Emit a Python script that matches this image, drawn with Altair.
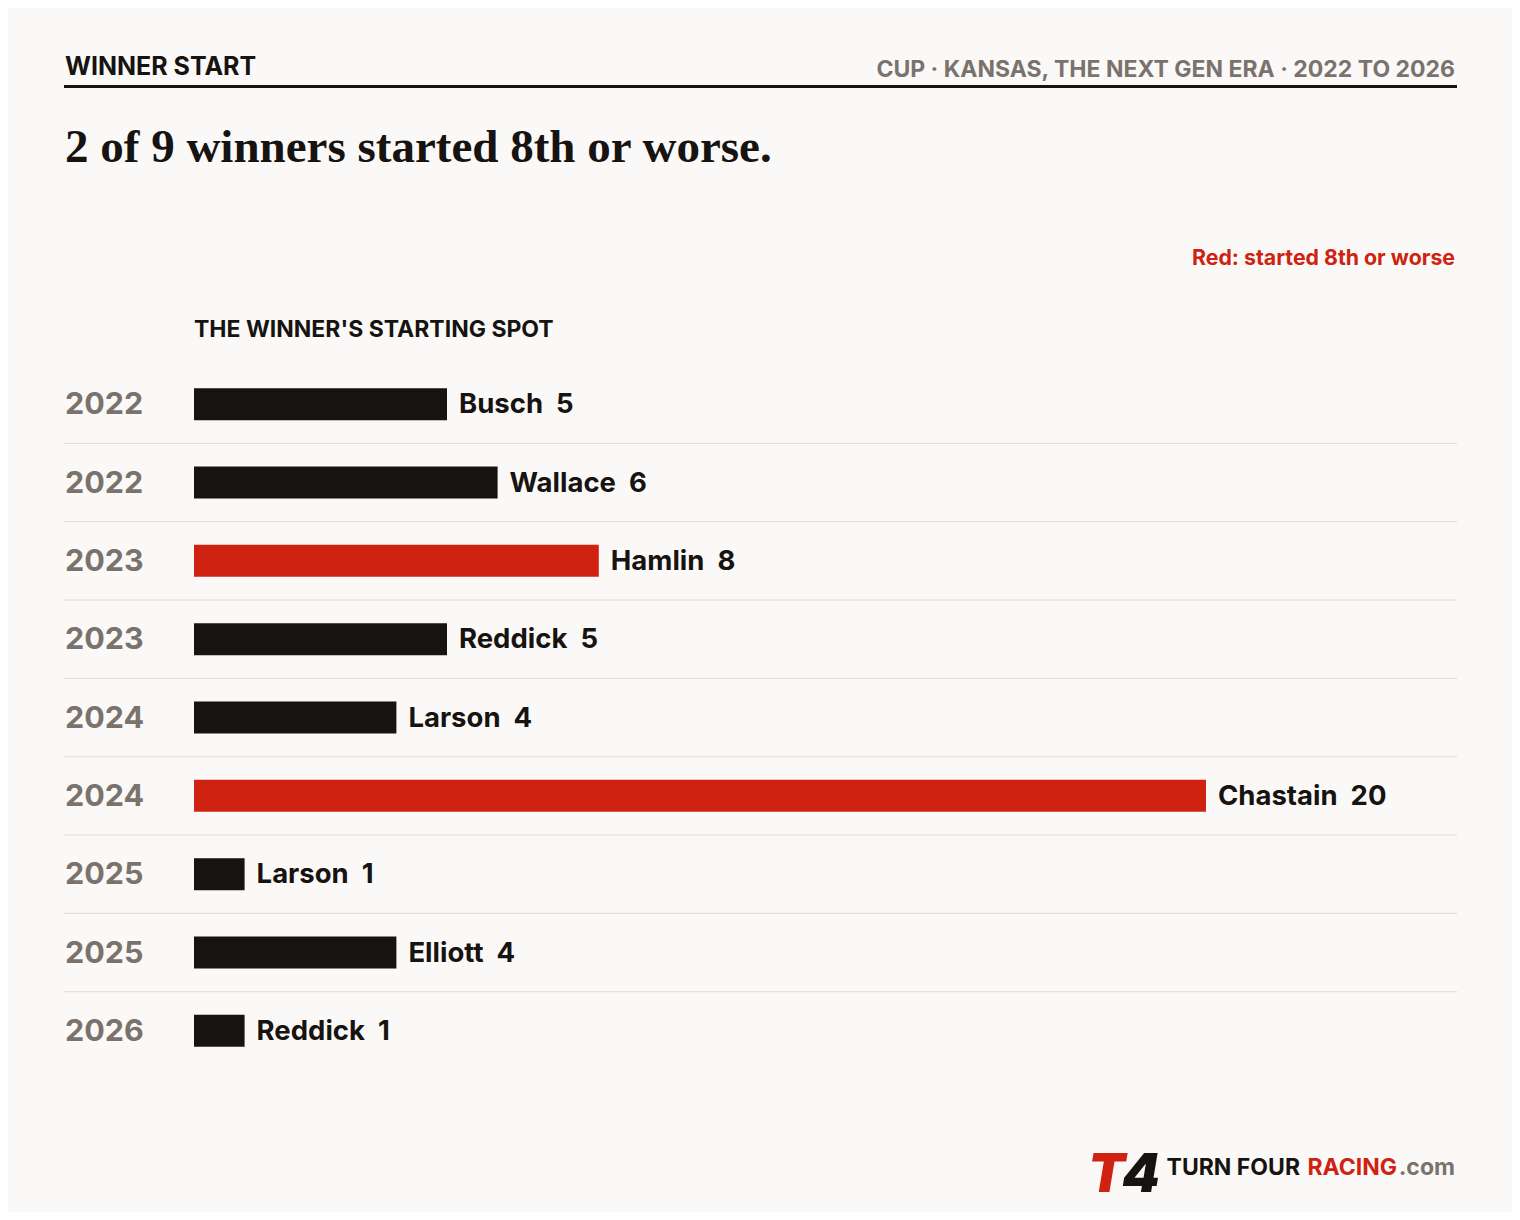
import altair as alt
import pandas as pd

# ---- data ----
years = ["2022", "2022", "2023", "2023", "2024", "2024", "2025", "2025", "2026"]
drivers = ["Busch", "Wallace", "Hamlin", "Reddick", "Larson", "Chastain", "Larson", "Elliott", "Reddick"]
starts = [5, 6, 8, 5, 4, 20, 1, 4, 1]

title_text = "2 of 9 winners started 8th or worse."
kicker = "WINNER START"
subtitle = "CUP · KANSAS, THE NEXT GEN ERA · 2022 TO 2026"
legend_note = "Red: started 8th or worse"
axis_label = "THE WINNER'S STARTING SPOT"

BG = "#faf9f7"
INK = "#161311"
RED = "#cf2211"
GRAY = "#7a736d"
SANS = "Inter"

rows = [f"r{i}" for i in range(len(starts))]
df = pd.DataFrame({
    "row": rows,
    "year": years,
    "driver": drivers,
    "start": starts,
})
df["label"] = df["driver"] + "\u00a0\u00a0" + df["start"].astype(str)
df["flag"] = df["start"].apply(lambda v: "late" if v >= 8 else "early")

xs = alt.Scale(domain=[0, 20], range=[186, 1198], nice=False, zero=True)
ys = alt.Scale(domain=rows, range=[357, 1062], paddingInner=0, paddingOuter=0)

base = alt.Chart(df)

bars = base.mark_bar(size=32).encode(
    x=alt.X("start:Q", scale=xs, axis=None),
    y=alt.Y("row:N", scale=ys, axis=None),
    color=alt.Color("flag:N", scale=alt.Scale(domain=["early", "late"], range=[INK, RED]), legend=None),
)

labels = base.mark_text(align="left", baseline="middle", dx=12, dy=1, font=SANS,
                        fontSize=27.5, fontWeight="bold", color=INK).encode(
    x=alt.X("start:Q", scale=xs, axis=None),
    y=alt.Y("row:N", scale=ys, axis=None),
    text="label:N",
)

year_labels = base.mark_text(align="left", baseline="middle", dy=1, font=SANS,
                             fontSize=30.5, fontWeight="bold", color=GRAY).encode(
    x=alt.value(57),
    y=alt.Y("row:N", scale=ys, axis=None),
    text="year:N",
)

seps = alt.Chart(df.iloc[:-1]).mark_rule(color="#dfdcd8", strokeWidth=1, yOffset=39.2).encode(
    x=alt.value(56), x2=alt.value(1449),
    y=alt.Y("row:N", scale=ys, axis=None),
)

def note(text, x, y, size, color, font=SANS, align="left", weight="bold", style="normal"):
    return alt.Chart(pd.DataFrame({"t": [text]})).mark_text(
        align=align, baseline="alphabetic", font=font, fontSize=size,
        fontWeight=weight, color=color, fontStyle=style,
    ).encode(x=alt.value(x), y=alt.value(y), text="t:N")

header_rule = alt.Chart(pd.DataFrame({"a": [0]})).mark_rule(color=INK, strokeWidth=3).encode(
    x=alt.value(56), x2=alt.value(1449), y=alt.value(78.5)
)

texts = [
    note(kicker, 57, 67, 25, INK),
    note(subtitle, 1447, 69, 23, GRAY, align="right"),
    note(title_text, 57, 154, 47, INK, font="Liberation Serif"),
    note(legend_note, 1447, 257, 21.3, RED, align="right"),
    note(axis_label, 186, 329, 23, INK),
    note("T", 1080, 1184, 54, RED, weight=900, style="italic"),
    note("4", 1114, 1184, 54, INK, weight=900, style="italic"),
    note("TURN FOUR", 1292, 1167, 23, INK, align="right"),
    note("RACING", 1389, 1167, 23, RED, align="right"),
    note(".com", 1447, 1167, 23, GRAY, align="right"),
]

chart = alt.layer(seps, header_rule, bars, labels, year_labels, *texts).properties(
    width=1504, height=1204, background=BG, padding=0,
    autosize=alt.AutoSizeParams(type="none"),
).configure_view(stroke=None)

chart.save("out.html", embed_options={"renderer": "svg", "actions": False})
